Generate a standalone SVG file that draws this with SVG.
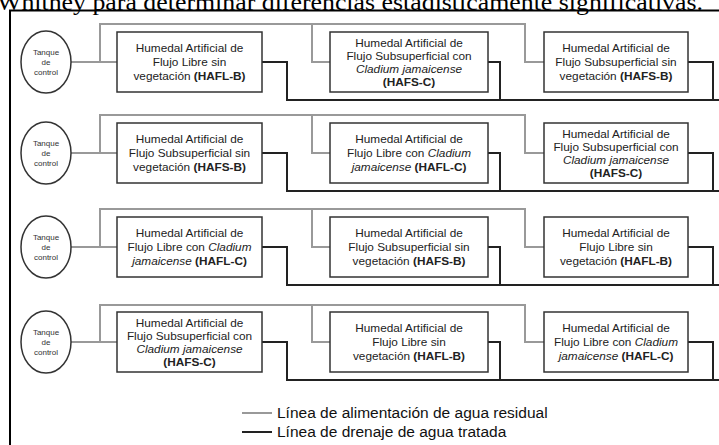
<svg xmlns="http://www.w3.org/2000/svg" width="719" height="445" viewBox="0 0 719 445">
<style>
.box{fill:#fff;stroke:#333;stroke-width:1.5}
.tank{fill:#fff;stroke:#333;stroke-width:1.5}
.t{font-family:"Liberation Sans",Arial,sans-serif;font-size:11.8px;fill:#222;text-anchor:middle}
.tk{font-family:"Liberation Sans",Arial,sans-serif;font-size:8px;fill:#333;text-anchor:middle}
.feed{fill:none;stroke:#999;stroke-width:2}
.drain{fill:none;stroke:#222;stroke-width:2}
.leg{font-family:"Liberation Sans",Arial,sans-serif;font-size:15.5px;fill:#111}
.b{font-weight:bold}
.i{font-style:italic}
</style>
<rect width="719" height="445" fill="#fff"/>
<text x="-3" y="9.5" font-family="Liberation Serif,Times New Roman,serif" font-size="23" textLength="706" lengthAdjust="spacingAndGlyphs" fill="#000">Whitney para determinar diferencias estadísticamente significativas.</text>
<rect x="10" y="10.5" width="740" height="460" fill="none" stroke="#000" stroke-width="2"/>

<g id="connectors">
  <path class="feed" d="M71,62H117M100,62V24H525V62H544M312,24V62H330"/>
  <path class="drain" d="M262,62H287V100H719M488,62H500V100M688,62H713V100"/>
  <path class="feed" d="M71,153H117M100,153V115H525V153H544M312,115V153H330"/>
  <path class="drain" d="M262,153H287V191H719M488,153H500V191M688,153H713V191"/>
  <path class="feed" d="M71,247H117M100,247V209H525V247H544M312,209V247H330"/>
  <path class="drain" d="M262,247H287V285H719M488,247H500V285M688,247H713V285"/>
  <path class="feed" d="M71,342H117M100,342V305H525V342H544M312,305V342H330"/>
  <path class="drain" d="M262,342H287V380H719M488,342H500V380M688,342H713V380"/>
</g>

<!-- Row 1 -->
<g id="tank1"><ellipse class="tank" cx="46" cy="62" rx="25" ry="31"/>
<text class="tk" x="46" y="55">Tanque</text><text class="tk" x="46" y="65">de</text><text class="tk" x="46" y="75">control</text></g>
<g id="r1-hafl-b"><rect class="box" x="117" y="32" width="145" height="60"/>
<text class="t" x="189.5" y="52">Humedal Artificial de</text><text class="t" x="189.5" y="66">Flujo Libre sin</text><text class="t" x="189.5" y="80">vegetación <tspan class="b">(HAFL-B)</tspan></text></g>
<g id="r1-hafs-c"><rect class="box" x="330" y="32" width="158" height="60"/>
<text class="t" x="409" y="46.5">Humedal Artificial de</text><text class="t" x="409" y="59.5">Flujo Subsuperficial con</text><text class="t i" x="409" y="72.5">Cladium jamaicense</text><text class="t b" x="409" y="85.5">(HAFS-C)</text></g>
<g id="r1-hafs-b"><rect class="box" x="544" y="32" width="144" height="60"/>
<text class="t" x="616" y="52">Humedal Artificial de</text><text class="t" x="616" y="66">Flujo Subsuperficial sin</text><text class="t" x="616" y="80">vegetación <tspan class="b">(HAFS-B)</tspan></text></g>

<!-- Row 2 -->
<g id="tank2"><ellipse class="tank" cx="46" cy="153" rx="25" ry="31"/>
<text class="tk" x="46" y="146">Tanque</text><text class="tk" x="46" y="156">de</text><text class="tk" x="46" y="166">control</text></g>
<g id="r2-hafs-b"><rect class="box" x="117" y="123" width="145" height="60"/>
<text class="t" x="189.5" y="143">Humedal Artificial de</text><text class="t" x="189.5" y="157">Flujo Subsuperficial sin</text><text class="t" x="189.5" y="171">vegetación <tspan class="b">(HAFS-B)</tspan></text></g>
<g id="r2-hafl-c"><rect class="box" x="330" y="123" width="158" height="60"/>
<text class="t" x="409" y="143">Humedal Artificial de</text><text class="t" x="409" y="157">Flujo Libre con <tspan class="i">Cladium</tspan></text><text class="t" x="409" y="171"><tspan class="i">jamaicense</tspan> <tspan class="b">(HAFL-C)</tspan></text></g>
<g id="r2-hafs-c"><rect class="box" x="544" y="123" width="144" height="60"/>
<text class="t" x="616" y="137.5">Humedal Artificial de</text><text class="t" x="616" y="150.5">Flujo Subsuperficial con</text><text class="t i" x="616" y="163.5">Cladium jamaicense</text><text class="t b" x="616" y="176.5">(HAFS-C)</text></g>

<!-- Row 3 -->
<g id="tank3"><ellipse class="tank" cx="46" cy="247" rx="25" ry="31"/>
<text class="tk" x="46" y="240">Tanque</text><text class="tk" x="46" y="250">de</text><text class="tk" x="46" y="260">control</text></g>
<g id="r3-hafl-c"><rect class="box" x="117" y="217" width="145" height="60"/>
<text class="t" x="189.5" y="237">Humedal Artificial de</text><text class="t" x="189.5" y="251">Flujo Libre con <tspan class="i">Cladium</tspan></text><text class="t" x="189.5" y="265"><tspan class="i">jamaicense</tspan> <tspan class="b">(HAFL-C)</tspan></text></g>
<g id="r3-hafs-b"><rect class="box" x="330" y="217" width="158" height="60"/>
<text class="t" x="409" y="237">Humedal Artificial de</text><text class="t" x="409" y="251">Flujo Subsuperficial sin</text><text class="t" x="409" y="265">vegetación <tspan class="b">(HAFS-B)</tspan></text></g>
<g id="r3-hafl-b"><rect class="box" x="544" y="217" width="144" height="60"/>
<text class="t" x="616" y="237">Humedal Artificial de</text><text class="t" x="616" y="251">Flujo Libre sin</text><text class="t" x="616" y="265">vegetación <tspan class="b">(HAFL-B)</tspan></text></g>

<!-- Row 4 -->
<g id="tank4"><ellipse class="tank" cx="46" cy="342" rx="25" ry="31"/>
<text class="tk" x="46" y="335">Tanque</text><text class="tk" x="46" y="345">de</text><text class="tk" x="46" y="355">control</text></g>
<g id="r4-hafs-c"><rect class="box" x="117" y="312" width="145" height="60"/>
<text class="t" x="189.5" y="326.5">Humedal Artificial de</text><text class="t" x="189.5" y="339.5">Flujo Subsuperficial con</text><text class="t i" x="189.5" y="352.5">Cladium jamaicense</text><text class="t b" x="189.5" y="365.5">(HAFS-C)</text></g>
<g id="r4-hafl-b"><rect class="box" x="330" y="312" width="158" height="60"/>
<text class="t" x="409" y="332">Humedal Artificial de</text><text class="t" x="409" y="346">Flujo Libre sin</text><text class="t" x="409" y="360">vegetación <tspan class="b">(HAFL-B)</tspan></text></g>
<g id="r4-hafl-c"><rect class="box" x="544" y="312" width="144" height="60"/>
<text class="t" x="616" y="332">Humedal Artificial de</text><text class="t" x="616" y="346">Flujo Libre con <tspan class="i">Cladium</tspan></text><text class="t" x="616" y="360"><tspan class="i">jamaicense</tspan> <tspan class="b">(HAFL-C)</tspan></text></g>

<g id="legend">
  <path class="feed" d="M242,413H272"/>
  <path class="drain" d="M242,432H272"/>
  <text class="leg" x="277" y="418">Línea de alimentación de agua residual</text>
  <text class="leg" x="277" y="437">Línea de drenaje de agua tratada</text>
</g>
</svg>
